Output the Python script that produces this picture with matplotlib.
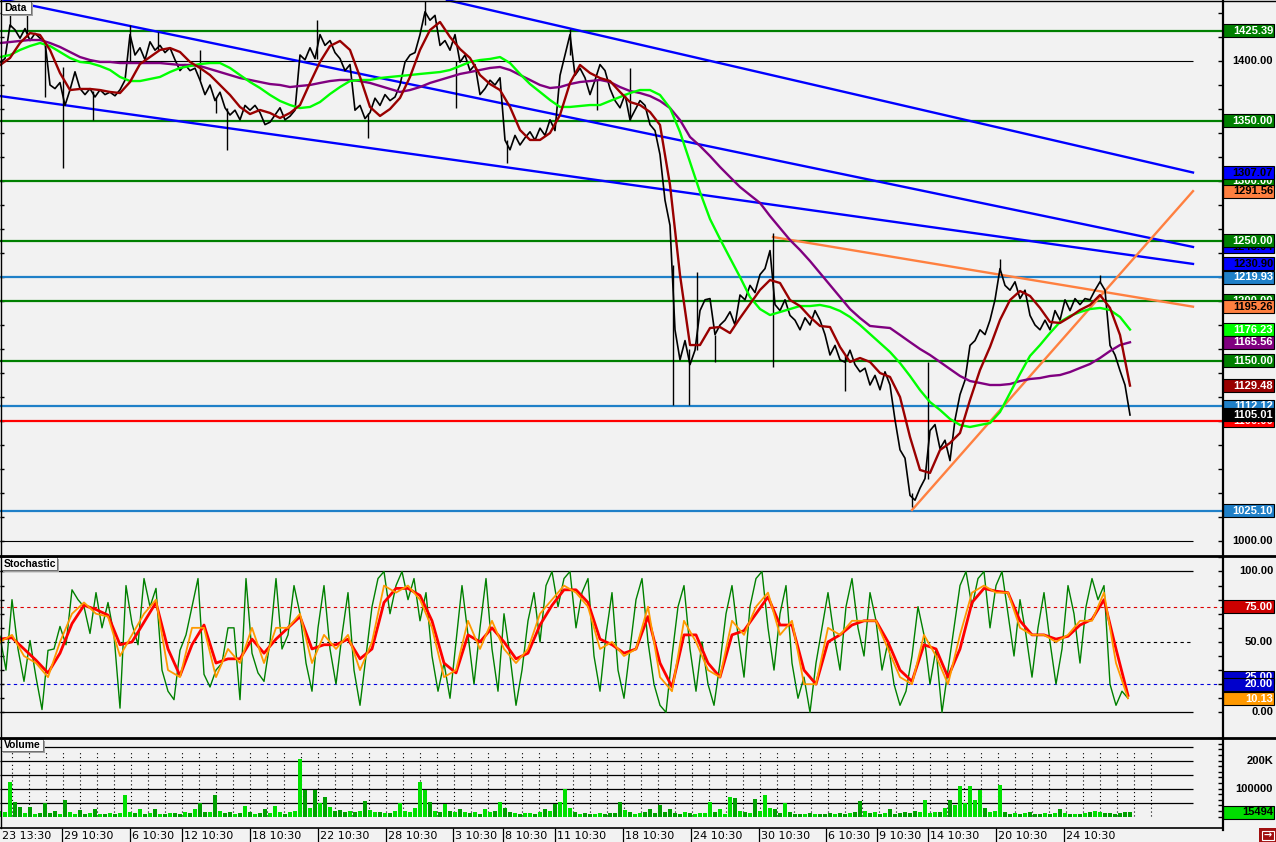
import numpy as np
import matplotlib
matplotlib.use('Agg')
import matplotlib.pyplot as plt
from matplotlib.patches import Rectangle
from matplotlib.transforms import blended_transform_factory

W, H = 1276, 842
BG = '#f2f2f2'
XR = 1222  # right edge of plot area (bars)

# ---- price data (close every 5 bars) ----
price = [
    1399, 1402, 1430, 1426, 1419, 1427, 1417, 1423, 1419, 1416,
    1380, 1377, 1382, 1363, 1376, 1391, 1377, 1372, 1377, 1370,
    1376, 1372, 1374, 1371, 1376, 1384, 1422, 1405, 1411, 1401,
    1416, 1409, 1413, 1407, 1411, 1401, 1392, 1397, 1392, 1394,
    1384, 1372, 1380, 1367, 1374, 1361, 1355, 1359, 1351, 1363,
    1359, 1363, 1357, 1347, 1349, 1355, 1361, 1351, 1354, 1359,
    1405, 1401, 1411, 1402, 1422, 1413, 1417, 1407, 1402, 1392,
    1397, 1359, 1363, 1352, 1357, 1369, 1363, 1372, 1367, 1370,
    1380, 1399, 1405, 1407, 1422, 1441, 1434, 1438, 1413, 1417,
    1409, 1422, 1399, 1405, 1392, 1397, 1372, 1377, 1384, 1380,
    1386, 1334, 1326, 1338, 1330, 1336, 1341, 1334, 1344, 1338,
    1351, 1342, 1388, 1405, 1422, 1388, 1394, 1386, 1372, 1384,
    1397, 1392, 1377, 1367, 1361, 1372, 1351, 1359, 1367, 1363,
    1347, 1342, 1322, 1284, 1263, 1176, 1151, 1167, 1147, 1159,
    1192, 1201, 1202, 1172, 1180, 1184, 1191, 1180, 1205, 1201,
    1213, 1207, 1222, 1227, 1242, 1197, 1192, 1201, 1188, 1184,
    1176, 1186, 1180, 1192, 1184, 1172, 1155, 1163, 1151, 1149,
    1159, 1147, 1141, 1144, 1130, 1138, 1126, 1141, 1130, 1101,
    1076, 1069, 1038, 1034, 1044, 1052, 1092, 1097, 1077, 1084,
    1067, 1101, 1122, 1134, 1163, 1167, 1176, 1172, 1184, 1201,
    1227, 1213, 1209, 1216, 1202, 1209, 1188, 1180, 1176, 1184,
    1176, 1192, 1184, 1201, 1192, 1202, 1197, 1202, 1201, 1209,
    1216, 1209, 1163, 1155, 1142, 1130, 1105]

# long wicks: bar, low, high
spike_x = [10, 27, 45, 63, 93, 130, 158, 200, 216, 227, 317, 368, 425, 456, 507,
           570, 597, 630, 673, 689, 697, 715, 773, 845, 912, 928, 1000, 1100]
spike_lo = [1428, 1420, 1370, 1311, 1351, 1400, 1409, 1384, 1357, 1326, 1402, 1336, 1430, 1361, 1315,
            1405, 1359, 1351, 1113, 1113, 1159, 1149, 1145, 1125, 1028, 1052, 1227, 1216]
spike_hi = [1445, 1438, 1416, 1395, 1375, 1430, 1424, 1409, 1370, 1361, 1434, 1357, 1450, 1400, 1334,
            1427, 1384, 1394, 1230, 1160, 1224, 1172, 1257, 1155, 1040, 1149, 1235, 1222]

# moving averages (every 10 bars)
ma_fast = [
    1396.6, 1402.5, 1415, 1423.3, 1421.7, 1409.2, 1390, 1375.8, 1376.7, 1376.7,
    1375.8, 1374.2, 1373.3, 1382.5, 1397.5, 1403.3, 1409.2, 1410.8, 1407.5, 1399.2,
    1394.2, 1388.3, 1380, 1371.7, 1361.7, 1355.8, 1359.2, 1356.7, 1352.5, 1356.7,
    1363.3, 1381.7, 1399.2, 1412.5, 1416.7, 1409.2, 1386.7, 1361.7, 1354.2, 1360,
    1369.2, 1386.7, 1409.2, 1425.8, 1432.5, 1420, 1410, 1402.5, 1388.3, 1380.8,
    1375.8, 1361.7, 1342.5, 1334.2, 1334.2, 1340, 1355, 1381.7, 1396.7, 1390,
    1385.8, 1383.3, 1374.2, 1365.8, 1363.3, 1357.5, 1346.7, 1296.7, 1221.7, 1163.3,
    1163.3, 1177.5, 1178.3, 1173.3, 1185.8, 1197.5, 1209.2, 1217.5, 1215, 1200.8,
    1195.8, 1186.7, 1179.2, 1178.3, 1161.7, 1149.2, 1152.5, 1149.2, 1140, 1136.7,
    1120, 1086.7, 1059.2, 1056.7, 1075.8, 1081.7, 1090, 1117.5, 1142.5, 1161.7,
    1184.2, 1200.8, 1208.3, 1204.2, 1194.2, 1182.5, 1181.7, 1186.7, 1192.5, 1196.7,
    1205, 1194.2, 1171.7, 1129.5]
ma_mid = [
    1403.3, 1405, 1409.2, 1412.5, 1415, 1412.5, 1407.5, 1402.5, 1399.2, 1398.3,
    1395.8, 1392.5, 1386.7, 1383.3, 1383.3, 1385, 1386.7, 1390.8, 1394.2, 1395.8,
    1397.5, 1398.3, 1398.3, 1394.2, 1388.3, 1382.5, 1377.5, 1371.7, 1366.7, 1363.3,
    1360.8, 1361.7, 1365.8, 1372.5, 1378.3, 1383.3, 1384.2, 1384.2, 1385.8, 1386.7,
    1387.5, 1388.3, 1389.2, 1390, 1390.8, 1392.5, 1395.8, 1399.2, 1400.8, 1401.7,
    1403.3, 1398.3, 1389.2, 1380.8, 1374.2, 1367.5, 1361.7, 1361.7, 1362.5, 1363.3,
    1363.3, 1366.7, 1370, 1373.3, 1375.8, 1375.8, 1371.7, 1360.8, 1340.8, 1315.8,
    1290.8, 1268.3, 1251.7, 1235.8, 1220, 1203.3, 1193.3, 1188.3, 1190.8, 1193.3,
    1195.8, 1195.8, 1196.7, 1195, 1191.7, 1186.7, 1180, 1172.5, 1165, 1157.5,
    1148.3, 1137.5, 1125.8, 1115.8, 1109.2, 1101.7, 1096.7, 1095, 1096.7, 1098.3,
    1107.5, 1123.3, 1139.2, 1154.2, 1163.3, 1173.3, 1182.5, 1187.5, 1190.8, 1193.3,
    1194.2, 1192.5, 1186.7, 1176.2]
ma_slow = [
    1415, 1415.8, 1416.7, 1417.5, 1417.5, 1415, 1411.7, 1407.5, 1403.3, 1400.8,
    1399.2, 1399.2, 1398.3, 1398.3, 1398.3, 1398.3, 1398.3, 1397.5, 1396.7, 1396.7,
    1395.8, 1393.3, 1390.8, 1388.3, 1385.8, 1384.2, 1382.5, 1380.8, 1380, 1378.3,
    1379.2, 1380, 1381.7, 1383.3, 1384.2, 1384.2, 1383.3, 1381.7, 1379.2, 1376.7,
    1374.2, 1375.8, 1378.3, 1381.7, 1384.2, 1386.7, 1389.2, 1390.8, 1392.5, 1394.2,
    1395, 1392.5, 1388.3, 1384.2, 1380, 1377.5, 1378.3, 1380.8, 1382.5, 1383.3,
    1384.2, 1382.5, 1378.3, 1375, 1373.3, 1370.8, 1366.7, 1360.8, 1350.8, 1336.7,
    1329.2, 1320.8, 1311.7, 1303.3, 1295, 1288.3, 1281.7, 1270.8, 1260.8, 1250.8,
    1242.5, 1233.3, 1223.3, 1213.3, 1203.3, 1193.3, 1185.8, 1179.2, 1178.3, 1177.5,
    1171.7, 1165.8, 1160, 1155, 1149.2, 1143.3, 1137.5, 1133.3, 1131.7, 1130,
    1130, 1130.8, 1133.3, 1135, 1135.8, 1137.5, 1138.3, 1140.8, 1144.2, 1147.5,
    1152.5, 1158.3, 1163.3, 1165.6]

green_levels = [1425.39, 1350, 1300, 1250, 1200, 1150]
steel_levels = [1219.93, 1112.12, 1025.10]
red_level = 1100
# trend lines: x0, y0, x1, y1
blue_trends = [(0, 1451.7, 1193, 1245.04), (0, 1370.8, 1193, 1230.90), (447, 1450.8, 1193, 1307.07)]
orange_trends = [(773, 1253.3, 1193, 1195.26), (912, 1025.8, 1193, 1291.56)]

# stochastic %K every 6 bars, %D / signal every 12 bars
stoch_k = [
    54, 30, 80, 45, 22, 51, 25, 2, 44, 45, 61, 48, 87, 80, 75, 56, 85, 60, 78, 55,
    3, 90, 63, 48, 95, 75, 88, 30, 15, 9, 44, 55, 75, 95, 27, 18, 30, 35, 60, 60,
    9, 95, 42, 28, 22, 50, 95, 45, 55, 90,
    70, 35, 15, 60, 90, 45, 20, 55, 85, 30, 5, 40, 75, 95, 100, 70, 90, 100, 80, 95,
    65, 85, 40, 15, 35, 10, 50, 90, 55, 20, 60, 95, 45, 15, 70, 40, 5, 30, 65, 85,
    50, 90, 100, 75, 95, 100, 60, 85, 95, 40, 15, 55, 85, 30, 10, 45, 80, 95, 50, 20,
    5, 0, 40, 75, 90, 45, 15, 50, 20, 5, 35, 70, 90, 55, 25, 75, 95, 100, 60, 30,
    70, 90, 35, 10, 25, 0, 35, 60, 85, 55, 30, 75, 95, 60, 40, 85, 65, 30, 50, 20,
    5, 15, 40, 75, 55, 20, 45, 0, 30, 60, 90, 100, 75, 95, 100, 60, 90, 100, 70, 40,
    80, 55, 25, 60, 85, 50, 20, 45, 90, 70, 35, 75, 95, 80, 90, 20, 5, 15, 10]
stoch_d = [
    52, 53, 45, 37, 28, 42, 63, 76, 73, 69, 48, 50, 64, 78, 45, 26, 48, 62, 35, 38,
    38, 52, 42, 52, 60, 68, 45, 48, 48, 52, 38, 45, 78, 88, 88, 83, 65, 35, 28, 55,
    50, 60, 50, 38, 42, 62, 76, 87, 87, 78, 52, 48, 42, 45, 68, 35, 18, 55, 55, 35,
    25, 55, 58, 70, 82, 62, 62, 30, 20, 50, 55, 62, 65, 65, 50, 30, 22, 48, 45, 25,
    45, 78, 88, 86, 85, 65, 55, 55, 52, 54, 62, 66, 80, 45, 12]
stoch_sig = [
    50, 55, 40, 35, 25, 50, 70, 78, 70, 68, 40, 55, 70, 80, 30, 25, 60, 60, 25, 45,
    35, 60, 35, 60, 60, 70, 35, 55, 45, 55, 30, 50, 90, 85, 90, 80, 60, 25, 30, 65,
    45, 65, 45, 35, 45, 70, 80, 90, 85, 75, 45, 50, 40, 45, 75, 25, 15, 65, 50, 30,
    25, 65, 55, 75, 85, 55, 65, 20, 20, 60, 55, 65, 65, 65, 45, 25, 20, 55, 40, 20,
    55, 85, 90, 85, 85, 60, 55, 55, 50, 55, 65, 65, 85, 35, 10]

# volume in thousands, every 5 bars
volume_k = [
    20, 15, 125, 54, 33, 12, 33, 10, 14, 48, 12, 21, 10, 60, 15, 10, 24, 10, 12, 26,
    10, 8, 12, 9, 14, 77, 18, 12, 26, 10, 12, 26, 10, 8, 14, 12, 10, 15, 12, 26,
    50, 18, 15, 77, 20, 12, 15, 10, 12, 38, 15, 10, 14, 26, 12, 38, 15, 10, 18, 22,
    205, 95, 30, 95, 48, 71, 36, 20, 25, 18, 22, 15, 20, 56, 25, 18, 15, 12, 14, 20,
    48, 20, 15, 30, 125, 95, 54, 20, 15, 45, 20, 15, 26, 18, 12, 15, 10, 26, 15, 20,
    54, 30, 15, 12, 10, 14, 12, 10, 15, 26, 20, 45, 54, 98, 30, 15, 10, 12, 8, 10,
    12, 10, 14, 12, 54, 25, 15, 10, 12, 15, 26, 12, 42, 18, 26, 12, 10, 15, 12, 10,
    14, 12, 54, 15, 26, 10, 71, 65, 20, 15, 12, 63, 20, 77, 30, 26, 12, 48, 15, 10,
    8, 10, 12, 10, 8, 10, 12, 10, 14, 10, 12, 15, 57, 20, 12, 15, 10, 12, 26, 10,
    12, 15, 12, 20, 15, 60, 12, 18, 15, 30, 60, 40, 110, 50, 110, 60, 95, 30, 15, 20,
    113, 15, 10, 12, 10, 12, 15, 10, 8, 12, 10, 12, 26, 12, 10, 8, 10, 12, 15, 20,
    15, 14, 12, 10, 12, 15, 15.5]

date_first = '23 13:30'
date_labels = ['29 10:30', '6 10:30', '12 10:30', '18 10:30', '22 10:30', '28 10:30',
               '3 10:30', '8 10:30', '11 10:30', '18 10:30', '24 10:30', '30 10:30',
               '6 10:30', '9 10:30', '14 10:30', '20 10:30', '24 10:30']
date_pos = [62, 130, 182, 250, 318, 386, 453, 503, 555, 623, 691, 759, 826, 877, 928, 996, 1064]

fig = plt.figure(figsize=(W / 100, H / 100), dpi=100, facecolor=BG)


def panel(top, bottom):
    a = fig.add_axes([0, 1 - bottom / H, XR / W, (bottom - top) / H])
    a.set_facecolor(BG)
    a.set_xlim(0, XR)
    for s in a.spines.values():
        s.set_visible(False)
    a.set_xticks([])
    a.tick_params(axis='y', direction='in', length=3, width=1, left=True, right=True,
                  labelleft=False, labelright=False, color='black')
    return a


ax = panel(0, 555)
ax.set_ylim(988.33, 1450.83)
sto = panel(556, 737)
sto.set_ylim(-17.5, 111.0)
vol = panel(738, 827)
vol.set_ylim(-36.8, 281)
band = panel(828, 842)
band.set_ylim(0, 1)
band.set_yticks([])

grid_x = 11.7 + 17 * np.arange(68)

# ---- main panel ----
ax.set_yticks(np.arange(1000, 1441, 20))
gx, gy = np.meshgrid(grid_x, [v for v in range(1020, 1441, 20) if v != 1400])
ax.scatter(gx.ravel(), gy.ravel(), s=0.5, marker='s', color='black', lw=0, zorder=1)
ax.hlines([1400, 1000], 0, 1193, color='black', lw=0.8, zorder=1)
ax.hlines(green_levels, 0, XR, color='#008000', lw=1.6, zorder=2)
ax.hlines(steel_levels, 0, XR, color='#1f80c8', lw=1.6, zorder=2)
ax.hlines(red_level, 0, XR, color='#ff0000', lw=1.6, zorder=2)
for x0, y0, x1, y1 in blue_trends:
    ax.plot([x0, x1], [y0, y1], color='#0000ff', lw=1.7, zorder=3)
for x0, y0, x1, y1 in orange_trends:
    ax.plot([x0, x1], [y0, y1], color='#ff8040', lw=1.7, zorder=3)

px = np.arange(len(price)) * 5
ax.plot(px, price, color='black', lw=1.2, zorder=4)
ax.vlines(spike_x, spike_lo, spike_hi, color='black', lw=1.0, zorder=4)
ax.plot(np.arange(len(ma_slow)) * 10, ma_slow, color='#800080', lw=1.7, zorder=5)
ax.plot(np.arange(len(ma_mid)) * 10, ma_mid, color='#00ff00', lw=1.7, zorder=5)
ax.plot(np.arange(len(ma_fast)) * 10, ma_fast, color='#990000', lw=1.7, zorder=5)

# ---- stochastic panel ----
sto.set_yticks(np.arange(0, 111, 10))
gx, gy = np.meshgrid(grid_x, [10, 30, 40, 60, 70, 80, 90])
sto.scatter(gx.ravel(), gy.ravel(), s=0.5, marker='s', color='black', lw=0, zorder=1)
sto.hlines([0, 100], 0, 1193, color='black', lw=0.9, zorder=1)
sto.hlines(50, 0, 1193, color='black', lw=0.8, ls=(0, (3, 3)), zorder=1)
sto.hlines(75, 0, XR, color='#dd0000', lw=0.8, ls=(0, (3, 3)), zorder=1)
sto.hlines(20, 0, XR, color='#0000dd', lw=0.8, ls=(0, (3, 3)), zorder=1)
sto.plot(np.arange(len(stoch_k)) * 6, stoch_k, color='#008000', lw=1.0, zorder=3)
sto.plot(np.arange(len(stoch_d)) * 12, stoch_d, color='#ff0000', lw=2.0, zorder=4)
sto.plot(np.arange(len(stoch_sig)) * 12, stoch_sig, color='#ff9900', lw=1.3, zorder=5)

# ---- volume panel ----
vol.set_yticks(np.arange(0, 281, 20))
vol.tick_params(axis='y', left=False)
vol.hlines([50, 100, 150, 200, 250], 0, 1193, color='black', lw=0.9, zorder=1)
vol.vlines(grid_x, 2, 238, color='black', lw=0.8, ls=(0, (1, 2.5)), zorder=1)
vx = np.arange(len(volume_k)) * 5
vcol = ['#00a000' if i > 0 and price[min(i, len(price) - 1)] < price[i - 1] else '#00e000'
        for i in range(len(volume_k))]
vol.bar(vx, volume_k, width=3.2, color=vcol, lw=0, zorder=3)

# ---- date band ----
band.vlines(date_pos, 0, 1, color='black', lw=0.9)
band.text(2, 0.45, date_first, fontsize=8, va='center', ha='left', family='DejaVu Sans')
for p, lab in zip(date_pos, date_labels):
    band.text(p + 2, 0.45, lab, fontsize=8, va='center', ha='left', family='DejaVu Sans')


# ---- right-hand value tags ----
def tag(a, val, text, bg, fg, z, ppu):
    h = 13 / ppu
    tr = blended_transform_factory(fig.transFigure, a.transData)
    if bg is not None:
        a.add_patch(Rectangle((1223 / W, val - h / 2), 51 / W, h, transform=tr, facecolor=bg,
                              edgecolor='black', lw=0.8, clip_on=False, zorder=z))
    a.text(1273 / W, val, text, transform=tr, ha='right', va='center', fontsize=8,
           fontweight='bold', family='Liberation Sans', color=fg, zorder=z + 0.5, clip_on=False)


main_tags = [
    (1245.04, '1245.04', '#0000ff', 'black'),
    (1300, '1300.00', '#008000', 'white'),
    (1200, '1200.00', '#008000', 'white'),
    (1100, '1100.00', '#ff0000', 'white'),
    (1112.12, '1112.12', '#1f80c8', 'white'),
    (1425.39, '1425.39', '#008000', 'white'),
    (1400, '1400.00', None, 'black'),
    (1350, '1350.00', '#008000', 'white'),
    (1250, '1250.00', '#008000', 'white'),
    (1150, '1150.00', '#008000', 'white'),
    (1219.93, '1219.93', '#1f80c8', 'white'),
    (1025.10, '1025.10', '#1f80c8', 'white'),
    (1000, '1000.00', None, 'black'),
    (1307.07, '1307.07', '#0000ff', 'black'),
    (1230.90, '1230.90', '#0000ff', 'black'),
    (1291.56, '1291.56', '#ff8040', 'black'),
    (1195.26, '1195.26', '#ff8040', 'black'),
    (1176.23, '1176.23', '#00ff00', 'white'),
    (1165.56, '1165.56', '#800080', 'white'),
    (1129.48, '1129.48', '#990000', 'white'),
    (1105.01, '1105.01', 'black', 'white'),
]
for i, (v, t, bg, fg) in enumerate(main_tags):
    tag(ax, v, t, bg, fg, 20 + i, 1.2)

sto_tags = [
    (100, '100.00', None, 'black'), (75, '75.00', '#cc0000', 'white'),
    (50, '50.00', None, 'black'), (25, '25.00', '#0000cc', 'white'),
    (20, '20.00', '#0000cc', 'white'), (0, '0.00', None, 'black'),
    (9.7, '10.13', '#ff9900', 'white'),
]
for i, (v, t, bg, fg) in enumerate(sto_tags):
    tag(sto, v, t, bg, fg, 20 + i, 1.408)

vol_tags = [(200, '200K', None, 'black'), (100, '100000', None, 'black'),
            (15.5, '15494', '#00dd00', 'black')]
for i, (v, t, bg, fg) in enumerate(vol_tags):
    tag(vol, v, t, bg, fg, 20 + i, 0.28)

# ---- frame, separators, panel titles ----
ov = fig.add_axes([0, 0, 1, 1], zorder=10)
ov.set_xlim(0, W)
ov.set_ylim(H, 0)
ov.axis('off')
ov.patch.set_alpha(0)
ov.plot([0.5, 0.5], [0, 828], color='black', lw=1)
ov.plot([0, W], [0.5, 0.5], color='black', lw=1)
ov.plot([XR + 0.5, XR + 0.5], [0, 830], color='black', lw=1.6)
ov.plot([0, W], [555.5, 555.5], color='black', lw=2)
ov.plot([0, W], [737.5, 737.5], color='black', lw=2)
ov.plot([0, XR], [827.5, 827.5], color='black', lw=1.2)
for (x0, y0, w, h, lab) in [(1, 1, 30, 13, 'Data'), (1, 557, 56, 13, 'Stochastic'),
                             (1, 739, 42, 12, 'Volume')]:
    ov.add_patch(Rectangle((x0 + 2, y0 + 2), w, h, facecolor='#a0a0a0', lw=0))
    ov.add_patch(Rectangle((x0, y0), w, h, facecolor='#f8f8f8', edgecolor='#606060', lw=0.6))
    ov.text(x0 + 3, y0 + h / 2 + 0.5, lab, fontsize=7.5, fontweight='bold',
            family='Liberation Sans', va='center', ha='left')
ov.add_patch(Rectangle((1259, 828), 17, 14, facecolor='#a01010', lw=0))
ov.add_patch(Rectangle((1261.5, 830.5), 12, 9, facecolor='none', edgecolor='white', lw=0.8))
ov.text(1267.5, 835, '\u2192', color='white', fontsize=7, fontweight='bold', ha='center', va='center')

fig.savefig('out.png', dpi=100, facecolor=BG)
